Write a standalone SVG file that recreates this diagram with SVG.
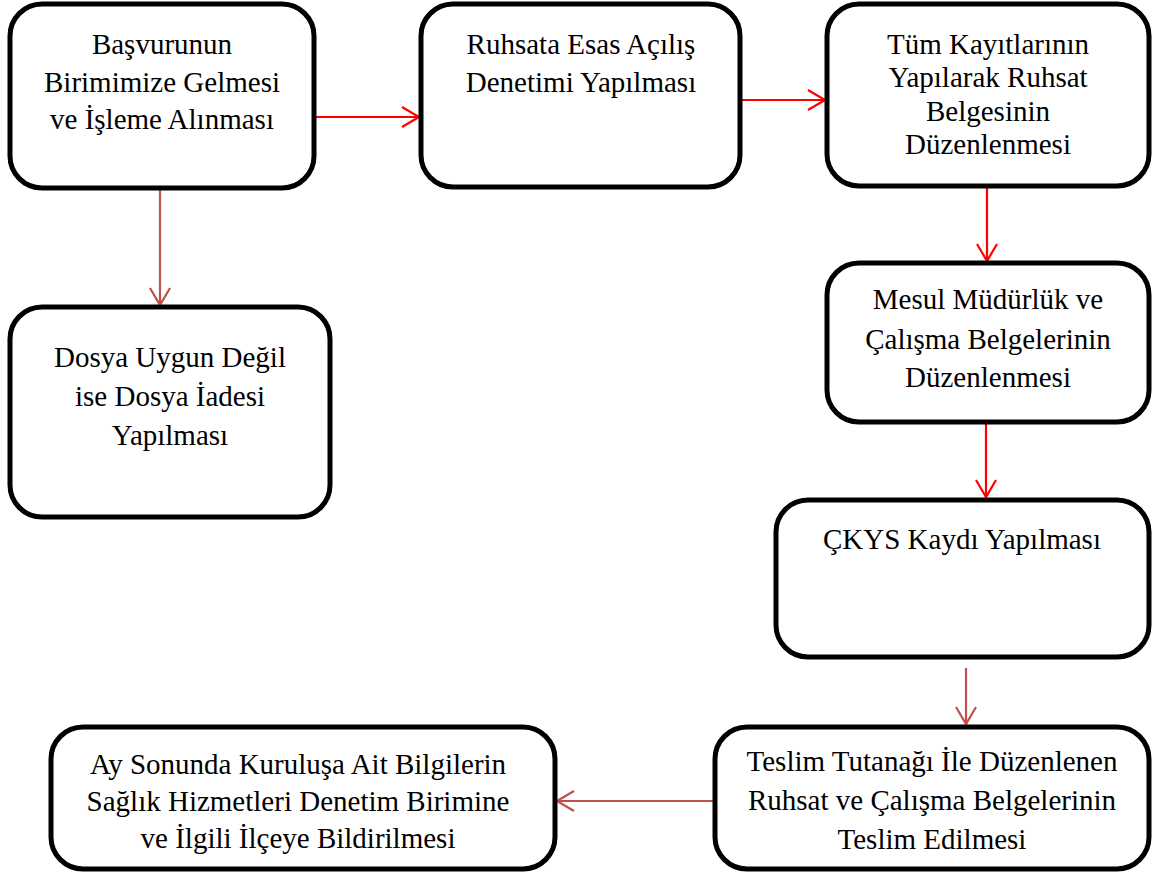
<svg xmlns="http://www.w3.org/2000/svg" width="1153" height="873" viewBox="0 0 1153 873">
  <style>
    .box { fill: #ffffff; stroke: #000000; stroke-width: 5; }
    .lbl { font-family: 'Liberation Serif', 'Times New Roman', serif; font-size: 29px; fill: #000000; text-anchor: middle; }
    .red { fill: none; stroke: #ff0000; stroke-width: 2.2; }
    .dred { fill: none; stroke: #c0504d; stroke-width: 2.2; }
  </style>
  <defs>
    <marker id="headRed" markerUnits="userSpaceOnUse" markerWidth="24" markerHeight="24" viewBox="-20 -12 22 24" refX="0" refY="0" orient="auto">
      <path d="M-17,-10 L0,0 L-17,10" fill="none" stroke="#ff0000" stroke-width="2.2"/>
    </marker>
    <marker id="headDred" markerUnits="userSpaceOnUse" markerWidth="24" markerHeight="24" viewBox="-20 -12 22 24" refX="0" refY="0" orient="auto">
      <path d="M-17,-10 L0,0 L-17,10" fill="none" stroke="#c0504d" stroke-width="2.2"/>
    </marker>
  </defs>

  <rect width="1153" height="873" fill="#ffffff"/>

  <!-- flow connectors -->
  <g id="connectors">
    <line class="red" x1="316" y1="117" x2="419" y2="117" marker-end="url(#headRed)"/>
    <line class="red" x1="741" y1="100" x2="825" y2="100" marker-end="url(#headRed)"/>
    <line class="dred" x1="160" y1="185" x2="160" y2="305" marker-end="url(#headDred)"/>
    <line class="red" x1="987" y1="186" x2="987" y2="261" marker-end="url(#headRed)"/>
    <line class="red" x1="986" y1="423" x2="986" y2="497" marker-end="url(#headRed)"/>
    <line class="dred" x1="966" y1="668" x2="966" y2="724" marker-end="url(#headDred)"/>
    <line class="dred" x1="714" y1="801" x2="557" y2="801" marker-end="url(#headDred)"/>
  </g>

  <g id="basvuru">
    <rect class="box" x="10" y="4" width="304" height="184" rx="32"/>
    <text class="lbl" x="162" y="54">Başvurunun</text>
    <text class="lbl" x="162" y="92">Birimimize Gelmesi</text>
    <text class="lbl" x="162" y="129">ve İşleme Alınması</text>
  </g>

  <g id="denetim">
    <rect class="box" x="421" y="4" width="319" height="183" rx="32"/>
    <text class="lbl" x="581" y="54">Ruhsata Esas Açılış</text>
    <text class="lbl" x="581" y="92">Denetimi Yapılması</text>
  </g>

  <g id="ruhsat-belgesi">
    <rect class="box" x="827" y="4" width="322" height="182" rx="32"/>
    <text class="lbl" x="988" y="54">Tüm Kayıtlarının</text>
    <text class="lbl" x="988" y="87">Yapılarak Ruhsat</text>
    <text class="lbl" x="988" y="121">Belgesinin</text>
    <text class="lbl" x="988" y="154">Düzenlenmesi</text>
  </g>

  <g id="mesul-mudurluk">
    <rect class="box" x="827" y="263" width="322" height="159" rx="32"/>
    <text class="lbl" x="988" y="309">Mesul Müdürlük ve</text>
    <text class="lbl" x="988" y="349">Çalışma Belgelerinin</text>
    <text class="lbl" x="988" y="387">Düzenlenmesi</text>
  </g>

  <g id="ckys">
    <rect class="box" x="776" y="500" width="373" height="157" rx="32"/>
    <text class="lbl" x="962" y="549">ÇKYS Kaydı Yapılması</text>
  </g>

  <g id="teslim">
    <rect class="box" x="715" y="727" width="434" height="142" rx="32"/>
    <text class="lbl" x="932" y="771">Teslim Tutanağı İle Düzenlenen</text>
    <text class="lbl" x="932" y="810">Ruhsat ve Çalışma Belgelerinin</text>
    <text class="lbl" x="932" y="849">Teslim Edilmesi</text>
  </g>

  <g id="bildirim">
    <rect class="box" x="51" y="727" width="504" height="142" rx="32"/>
    <text class="lbl" x="298" y="774">Ay Sonunda Kuruluşa Ait Bilgilerin</text>
    <text class="lbl" x="298" y="811">Sağlık Hizmetleri Denetim Birimine</text>
    <text class="lbl" x="298" y="848">ve İlgili İlçeye Bildirilmesi</text>
  </g>

  <g id="iade">
    <rect class="box" x="10" y="307" width="320" height="210" rx="32"/>
    <text class="lbl" x="170" y="367">Dosya Uygun Değil</text>
    <text class="lbl" x="170" y="406">ise Dosya İadesi</text>
    <text class="lbl" x="170" y="445">Yapılması</text>
  </g>
</svg>
